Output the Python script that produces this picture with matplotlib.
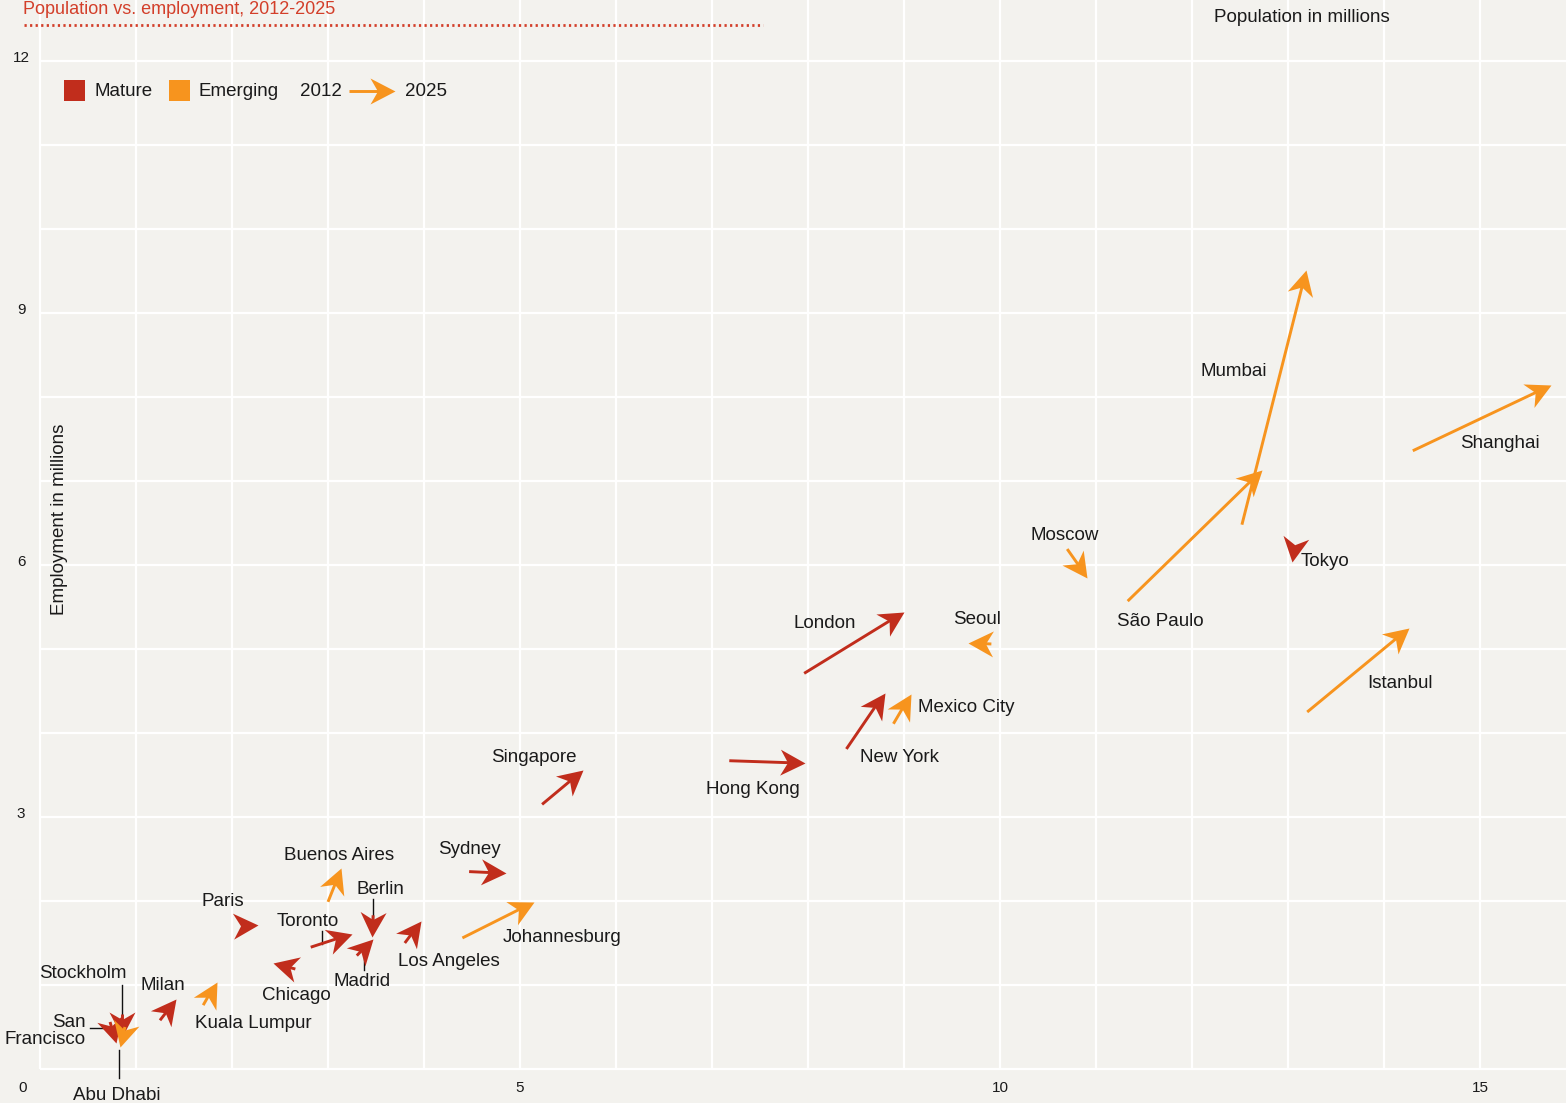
import numpy as np
import matplotlib
matplotlib.use("Agg")
import matplotlib.pyplot as plt
from matplotlib.path import Path
from matplotlib.markers import MarkerStyle
from matplotlib.transforms import Affine2D

# ---------------- data ----------------
cities = ["Shanghai", "Mumbai", "São Paulo", "Tokyo", "Istanbul", "Moscow", "Seoul",
          "London", "New York", "Mexico City", "Hong Kong", "Singapore", "Sydney",
          "Johannesburg", "Buenos Aires", "Berlin", "Paris", "Toronto", "Madrid",
          "Los Angeles", "Chicago", "Milan", "Kuala Lumpur", "Stockholm",
          "San Francisco", "Abu Dhabi"]
group = ["Emerging", "Emerging", "Emerging", "Mature", "Emerging", "Emerging", "Emerging",
         "Mature", "Mature", "Emerging", "Mature", "Mature", "Mature",
         "Emerging", "Emerging", "Mature", "Mature", "Mature", "Mature",
         "Mature", "Mature", "Mature", "Emerging", "Mature",
         "Mature", "Emerging"]
pop_2012 = [14.30, 12.52, 11.33, 13.07, 13.20, 10.70, 9.91,
            7.96, 8.40, 8.89, 7.18, 5.23, 4.47,
            4.40, 3.00, 3.47, 2.08, 2.82, 3.30,
            3.80, 2.66, 1.25, 1.70, 0.854,
            0.73, 0.885]
emp_2012 = [7.36, 6.48, 5.57, 6.26, 4.25, 6.19, 5.06,
            4.71, 3.81, 4.11, 3.67, 3.15, 2.35,
            1.56, 1.99, 1.83, 1.71, 1.45, 1.35,
            1.50, 1.19, 0.58, 0.76, 0.65,
            0.56, 0.50]
pop_2025 = [15.74, 13.19, 12.73, 13.04, 14.26, 10.91, 9.67,
            9.00, 8.80, 9.07, 7.97, 5.66, 4.85,
            5.15, 3.14, 3.46, 2.27, 3.25, 3.47,
            3.97, 2.43, 1.42, 1.84, 0.854,
            0.79, 0.83]
emp_2025 = [8.14, 9.51, 7.13, 6.04, 5.25, 5.85, 5.07,
            5.44, 4.48, 4.46, 3.64, 3.56, 2.33,
            1.99, 2.39, 1.57, 1.72, 1.61, 1.55,
            1.76, 1.26, 0.83, 1.04, 0.38,
            0.31, 0.26]
x_ticks = [5, 10, 15]
y_ticks = [3, 6, 9, 12]

# ---------------- style ----------------
W, H, DPI = 1566, 1103, 100
BG = "#f3f2ee"
COL = {"Mature": "#c12d1c", "Emerging": "#f7941e"}
TITLE_COL = "#d33f2a"
TXT = "#1a1a1a"
FONT = "Liberation Sans"
plt.rcParams["font.family"] = [FONT, "DejaVu Sans"]

fig = plt.figure(figsize=(W / DPI, H / DPI), dpi=DPI)
fig.patch.set_facecolor(BG)
ax = fig.add_axes([0, 0, 1, 1])
ax.set_facecolor(BG)
X0, Y0, SX, SY = 40, 1069, 96, 84   # pixel origin and scale
ax.set_xlim(-X0 / SX, (W - X0) / SX)
ax.set_ylim(-(H - Y0) / SY, Y0 / SY)
ax.axis("off")


def P(px, py):
    """pixel position -> data coords (layout helper)"""
    return (px - X0) / SX, (Y0 - py) / SY


# grid
xmax = ax.get_xlim()[1]
ymax = ax.get_ylim()[1]
ax.vlines(np.arange(0, 16), 0, ymax, color="white", lw=1.6, zorder=1)
ax.hlines(np.arange(0, 13), 0, xmax, color="white", lw=1.6, zorder=1)

# tick labels
for t in y_ticks:
    ax.text(*P(21, Y0 - t * SY - 3), str(t), ha="center", va="center",
            fontsize=11, color=TXT)
for t in x_ticks:
    ax.text(*P(X0 + t * SX, 1088), str(t), ha="center", va="center",
            fontsize=11, color=TXT)
ax.text(*P(23, 1088), "0", ha="center", va="center", fontsize=11, color=TXT)

# arrowhead marker (stealth shape), tip at origin, pointing +x
HL, HW, NOTCH = 25.0, 13.0, 17.5
head_path = Path([(0, 0), (-HL, HW), (-NOTCH, 0), (-HL, -HW), (0, 0)],
                 [Path.MOVETO, Path.LINETO, Path.LINETO, Path.LINETO, Path.CLOSEPOLY])
HEAD_MS = 2 * HL * 72 / DPI
LW = 2.1


def draw_arrow(x0, y0, x1, y1, color, z=3):
    dx = (x1 - x0) * SX
    dy = (y1 - y0) * SY
    L = np.hypot(dx, dy)
    ang = np.degrees(np.arctan2(dy, dx))
    ux, uy = dx / L, dy / L
    back = NOTCH - 3
    if L > NOTCH + 2:
        ex = x1 - ux * back / SX
        ey = y1 - uy * back / SY
        ax.plot([x0, ex], [y0, ey], color=color, lw=LW, solid_capstyle="butt", zorder=z)
    m = MarkerStyle(head_path, transform=Affine2D().rotate_deg(ang))
    ax.plot([x1], [y1], marker=m, markersize=HEAD_MS, color=color,
            markeredgewidth=0, linestyle="none", zorder=z + 0.5)


order = [i for i in range(len(cities)) if group[i] == "Mature"] + \
        [i for i in range(len(cities)) if group[i] == "Emerging"]
for i in order:
    draw_arrow(pop_2012[i], emp_2012[i], pop_2025[i], emp_2025[i], COL[group[i]],
               z=3 if group[i] == "Mature" else 4)

# city labels (pixel layout positions)
label_pos = {
    "Shanghai": (1500, 442), "Mumbai": (1234, 370), "Tokyo": (1325, 560),
    "São Paulo": (1160, 619), "Moscow": (1065, 534), "Istanbul": (1400, 681),
    "Seoul": (977, 617), "London": (825, 621), "Mexico City": (966, 705),
    "New York": (899, 755), "Hong Kong": (753, 787), "Singapore": (534, 756),
    "Sydney": (469, 847), "Buenos Aires": (339, 854), "Berlin": (380, 888),
    "Paris": (223, 899), "Toronto": (308, 920), "Johannesburg": (562, 935),
    "Los Angeles": (449, 959), "Madrid": (362, 979), "Chicago": (296, 994),
    "Stockholm": (83, 972), "Milan": (163, 983), "Kuala Lumpur": (253, 1021),
    "Abu Dhabi": (117, 1093),
}
DY = 2  # baseline nudge
for name, (px, py) in label_pos.items():
    ax.text(*P(px, py + DY), name, ha="center", va="center", fontsize=13.5, color=TXT, zorder=6)
ax.text(*P(86, 1029 + DY), "San\nFrancisco", ha="right", va="center", multialignment="right",
        fontsize=13.5, color=TXT, linespacing=1.0, zorder=6)

# leader lines
leaders = [((122, 985), (122, 1016)), ((90, 1028), (112, 1028)), ((119, 1050), (119, 1078)),
           ((373, 899), (373, 919)), ((322, 931), (322, 944)), ((364, 950), (364, 970))]
for a, b in leaders:
    (xa, ya), (xb, yb) = P(*a), P(*b)
    ax.plot([xa, xb], [ya, yb], color="#111111", lw=1.0, zorder=2)

# title, dotted rule, axis titles
ax.text(*P(23, 10), "Population vs. employment, 2012-2025", ha="left", va="center",
        fontsize=13, color=TITLE_COL)
(xa, ya), (xb, yb) = P(24, 25), P(763, 25)
ax.plot([xa, xb], [ya, yb], color=TITLE_COL, lw=2.0, linestyle=(0, (0.8, 1.2)), zorder=5)
ax.text(*P(1302, 18), "Population in millions", ha="center", va="center",
        fontsize=13.5, color=TXT)
ax.text(*P(60, 519), "Employment in millions", ha="center", va="center",
        fontsize=13.5, color=TXT, rotation=90)

# legend
for (px, key) in [(64, "Mature"), (169, "Emerging")]:
    (xa, ya) = P(px, 101)
    ax.add_patch(plt.Rectangle((xa, ya), 21 / SX, 21 / SY, color=COL[key], zorder=5, lw=0))
ax.text(*P(94, 92), "Mature", ha="left", va="center", fontsize=13.5, color=TXT)
ax.text(*P(199, 92), "Emerging", ha="left", va="center", fontsize=13.5, color=TXT)
ax.text(*P(300, 92), "2012", ha="left", va="center", fontsize=13.5, color=TXT)
ax.text(*P(405, 92), "2025", ha="left", va="center", fontsize=13.5, color=TXT)
(xa, ya), (xb, yb) = P(349, 91), P(395, 91)
draw_arrow(xa, ya, xb, yb, COL["Emerging"], z=5)

fig.savefig("out.png", dpi=DPI, facecolor=BG)
